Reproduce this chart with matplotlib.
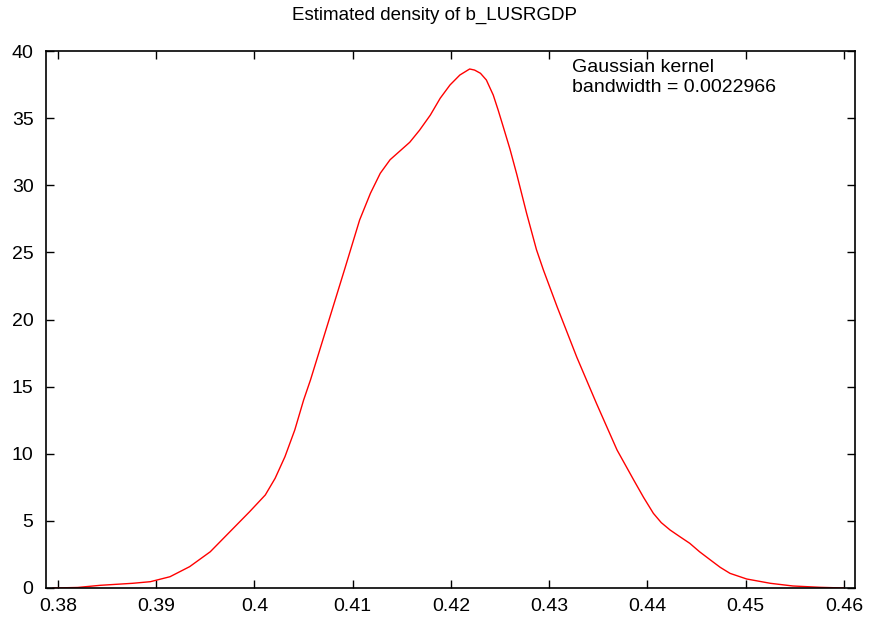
import matplotlib
matplotlib.use("Agg")
import matplotlib.pyplot as plt

plt.rcParams['font.family'] = ['Liberation Sans', 'DejaVu Sans']

title = "Estimated density of b_LUSRGDP"
kernel_label = "Gaussian kernel"
bandwidth_label = "bandwidth = 0.0022966"

x_vals = [0.3795, 0.3820, 0.3843, 0.3876, 0.3894, 0.3914, 0.3934, 0.3955, 0.3975,
          0.3995, 0.4011, 0.4021, 0.4031, 0.4041, 0.4050, 0.4057, 0.4092, 0.4107,
          0.4118, 0.4128, 0.4138, 0.4148, 0.4158, 0.4168, 0.4179, 0.4189, 0.4199,
          0.4209, 0.4219, 0.4224, 0.4230, 0.4236, 0.4243, 0.4248, 0.4253, 0.4260,
          0.4267, 0.4277, 0.4287, 0.4294, 0.4308, 0.4328, 0.4348, 0.4369, 0.4386,
          0.4396, 0.4406, 0.4414, 0.4423, 0.4433, 0.4443, 0.4453, 0.4464, 0.4474,
          0.4484, 0.4501, 0.4525, 0.4548, 0.4576, 0.4600]
y_vals = [0.0, 0.04, 0.20, 0.35, 0.47, 0.84, 1.59, 2.70, 4.19,
          5.68, 6.93, 8.17, 9.78, 11.77, 14.0, 15.5, 23.8, 27.41,
          29.4, 30.89, 31.9, 32.55, 33.2, 34.1, 35.23, 36.48, 37.47,
          38.21, 38.66, 38.58, 38.34, 37.84, 36.72, 35.6, 34.4, 32.7,
          30.8, 27.9, 25.2, 23.7, 20.95, 17.2, 13.76, 10.28, 8.04,
          6.75, 5.56, 4.87, 4.32, 3.82, 3.33, 2.70, 2.09, 1.54,
          1.09, 0.67, 0.35, 0.15, 0.05, 0.0]

x_ticks = [0.38, 0.39, 0.40, 0.41, 0.42, 0.43, 0.44, 0.45, 0.46]
x_tick_labels = ["0.38", "0.39", "0.4", "0.41", "0.42", "0.43", "0.44", "0.45", "0.46"]
y_ticks = [0, 5, 10, 15, 20, 25, 30, 35, 40]

fig = plt.figure(figsize=(8.69, 6.22), dpi=100)
ax = fig.add_axes([46/869, 34/622, (855-46)/869, (588-51)/622])

ax.plot(x_vals, y_vals, color='#ff0000', linewidth=1.0, solid_joinstyle='round')

ax.set_xlim(0.37878, 0.46112)
ax.set_ylim(0, 40)
ax.set_xticks(x_ticks)
ax.set_xticklabels(x_tick_labels)
ax.set_yticks(y_ticks)
ax.tick_params(direction='in', length=6, width=1, top=True, right=True,
               labelsize=14, colors='black')
ax.tick_params(axis='x', pad=7)
ax.tick_params(axis='y', pad=9)
for s in ax.spines.values():
    s.set_linewidth(1.2)
    s.set_color('black')

fig.text(0.5, 1 - 15/622, title, ha='center', va='center', fontsize=13.5)
fig.text(572/869, 1 - 68/622, kernel_label, ha='left', va='center', fontsize=14)
fig.text(572/869, 1 - 87/622, bandwidth_label, ha='left', va='center', fontsize=14)

fig.savefig("out.png", dpi=100)
